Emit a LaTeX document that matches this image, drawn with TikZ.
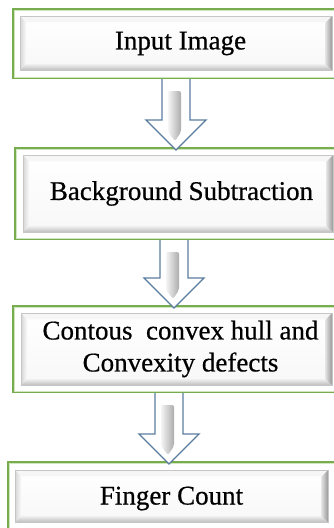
\documentclass[tikz,border=0pt]{standalone}
\usepackage{fontspec}
\setmainfont{Liberation Serif}[FakeBold=0.6]
\usetikzlibrary{calc}

\definecolor{boxgreen}{HTML}{77AD4F}
\definecolor{palegreen}{HTML}{CFE6BF}
\definecolor{arrowblue}{HTML}{5A7D9F}

% raised, bevelled panel inside a stage frame: (x1,y1) top left, (x2,y2) bottom right
\newcommand\bevelpanel[4]{%
  \fill[top color=white,bottom color=gray!6] (#1,#2) rectangle (#3,#4);
  \fill[gray!7] (#1,#2) -- (#3,#2) -- (#3-6,#2+6) -- (#1+6,#2+6) -- cycle;
  \shade[left color=gray!32,right color=gray!4] (#1,#2) -- (#1+6,#2+6) -- (#1+6,#4-6) -- (#1,#4) -- cycle;
  \shade[top color=gray!12,bottom color=gray!50] (#1,#4) -- (#1+6,#4-6) -- (#3-7,#4-6) -- (#3,#4) -- cycle;
  \shade[left color=gray!20,right color=gray!80] (#3,#2) -- (#3-7,#2+7) -- (#3-7,#4-6) -- (#3,#4) -- cycle;
  \draw[gray!45,line width=0.6pt] (#1,#2) rectangle (#3,#4);
}

% hollow block arrow from the bottom of one stage to the top of the next
\newcommand\flowarrow[3]{%
  \draw[arrowline] let \p1=($(#1.south)+(#3,0)$), \p2=($(#2.north)+(#3,0)$) in
    (\x1-14pt,\y1) -- (\x1-14pt,\y2+27pt) -- (\x1-30pt,\y2+27pt) -- (\x1,\y2-3pt)
    -- (\x1+30pt,\y2+27pt) -- (\x1+14pt,\y2+27pt) -- (\x1+14pt,\y1);
  \shade[left color=gray!8,right color=gray!65,rounded corners=2pt]
    let \p1=($(#1.south)+(#3,0)$), \p2=($(#2.north)+(#3,0)$) in
    (\x1-8pt,\y1-12pt) -- (\x1-8pt,\y2+15pt) -- (\x1-1pt,\y2+6pt)
    -- (\x1+5pt,\y2+15pt) -- (\x1+5pt,\y1-12pt) -- cycle;
}

\tikzset{
  stage/.style={draw=boxgreen,line width=2pt,inner sep=0pt,align=center,
    font=\fontsize{27}{32}\selectfont,text=black},
  innerrim/.style={draw=palegreen,line width=1pt},
  arrowline/.style={draw=arrowblue,line width=1.3pt,fill=white,line join=miter},
}

\begin{document}
\begin{tikzpicture}[x=1pt,y=-1pt]
  \useasboundingbox (0,0) rectangle (334,528);
  \clip (0,0) rectangle (334,528);
  \fill[white] (0,0) rectangle (334,528);

  % bevelled panels
  \bevelpanel{20}{16}{332}{70}
  \bevelpanel{23}{155}{333}{232}
  \bevelpanel{21}{313}{332}{385}
  \bevelpanel{15}{470}{328}{522}

  % stages
  \node[stage,minimum width=335pt,minimum height=69pt] (b1) at (180.5,43.5) {Input Image};
  \node[stage,minimum width=333pt,minimum height=91pt] (b2) at (181.5,193.5) {Background Subtraction};
  \node[stage,minimum width=335pt,minimum height=86pt] (b3) at (180.5,349) {Contous\ \ convex hull and\\Convexity defects};
  \node[stage,minimum width=327pt,minimum height=73pt] (b4) at (171.5,498.5) {Finger Count};

  \foreach \b in {b1,b2,b3,b4}
    \draw[innerrim] ($(\b.north west)+(2,2)$) rectangle ($(\b.south east)+(-2,-2)$);

  % connectors
  \flowarrow{b1}{b2}{-4.5}
  \flowarrow{b2}{b3}{-7.5}
  \flowarrow{b3}{b4}{-11.5}
\end{tikzpicture}
\end{document}
